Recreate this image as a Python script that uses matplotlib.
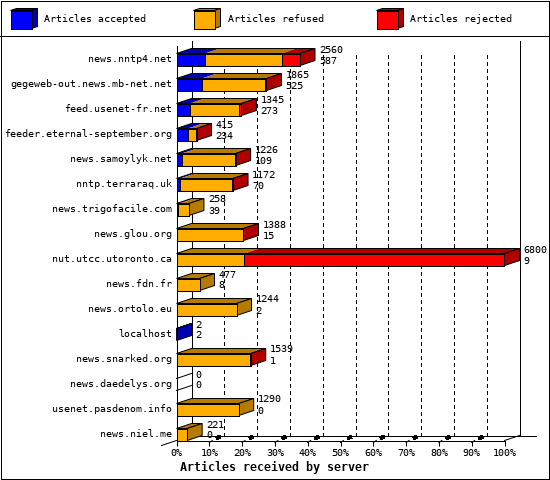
import matplotlib
matplotlib.use("Agg")
import matplotlib.pyplot as plt
from matplotlib.patches import Polygon, Rectangle
from matplotlib.lines import Line2D
from matplotlib.transforms import ScaledTranslation

servers = ["news.nntp4.net", "gegeweb-out.news.mb-net.net", "feed.usenet-fr.net",
           "feeder.eternal-september.org", "news.samoylyk.net", "nntp.terraraq.uk",
           "news.trigofacile.com", "news.glou.org", "nut.utcc.utoronto.ca", "news.fdn.fr",
           "news.ortolo.eu", "localhost", "news.snarked.org", "news.daedelys.org",
           "usenet.pasdenom.info", "news.niel.me"]
accepted = [587, 525, 273, 234, 109, 70, 39, 15, 9, 8, 2, 2, 1, 0, 0, 0]
refused = [1590, 1320, 1030, 160, 1110, 1090, 219, 1365, 1400, 469, 1242, 0, 1530, 0, 1290, 221]
rejected = [383, 20, 42, 21, 7, 12, 0, 8, 5391, 0, 0, 0, 8, 0, 0, 0]
series_names = ["Articles accepted", "Articles refused", "Articles rejected"]
tick_percent = [0, 10, 20, 30, 40, 50, 60, 70, 80, 90, 100]
axis_title = "Articles received by server"

FRONT = ["#0000FF", "#FFAE00", "#FF0000"]
DARK = ["#0000B0", "#B47B00", "#B00000"]
W, H = 550, 480
MONO = "DejaVu Sans Mono"
plt.rcParams["text.antialiased"] = True
plt.rcParams["text.hinting"] = "no_autohint"
plt.rcParams["font.family"] = MONO
PX = 0.72
FS = 7.2

fig = plt.figure(figsize=(W / 100, H / 100), dpi=100, facecolor="white")

# full-figure overlay in pixels for frame and legend
bg = fig.add_axes([0, 0, 1, 1], zorder=0)
bg.set_xlim(0, W)
bg.set_ylim(H, 0)
bg.axis("off")
bg.add_patch(Rectangle((0.5, 0.5), W - 1.5, H - 1.5, fc="white", ec="black", lw=PX, antialiased=False))
bg.add_line(Line2D([0, W], [35.5, 35.5], color="black", lw=PX, antialiased=False))
for x0, text_x, name, f, d in zip([10.5, 193.5, 376.5], [44.5, 227.5, 410], series_names, FRONT, DARK):
    w, y0, y1, dx, dy = 21, 10.5, 28.5, 6, 2
    bg.add_patch(Polygon([(x0, y0), (x0 + dx, y0 - dy), (x0 + w + dx, y0 - dy), (x0 + w, y0)], fc=d, ec="black", lw=PX))
    bg.add_patch(Polygon([(x0 + w, y0), (x0 + w + dx, y0 - dy), (x0 + w + dx, y1 - dy), (x0 + w, y1)], fc=d, ec="black", lw=PX))
    bg.add_patch(Rectangle((x0, y0), w, y1 - y0, fc=f, ec="black", lw=PX, antialiased=False))
    bg.text(text_x, 19.5, name, fontsize=FS, va="center", ha="left")
bg.text(274, 467, axis_title, fontsize=8.4, fontweight="bold", va="center", ha="center")

# Chart axes: the front plane of the 3D box
LEFT, RIGHT, TOP, BOTTOM = 176.5, 504.5, 45.5, 440.5
ax = fig.add_axes([LEFT / W, 1 - BOTTOM / H, (RIGHT - LEFT) / W, (BOTTOM - TOP) / H], zorder=1)
ax.patch.set_alpha(0)
XMAX = 6800
ax.set_xlim(0, XMAX)
ax.set_ylim(15.24, -0.56)
px_x = XMAX / (RIGHT - LEFT)
px_y = 1 / 25
DX, DY = 15 * px_x, -5 * px_y
HALF = 6 * px_y

for s in ["top", "right"]:
    ax.spines[s].set_visible(False)
for s in ["left", "bottom"]:
    ax.spines[s].set_linewidth(PX)
    ax.spines[s].set_antialiased(False)
ax.set_xticks([p / 100 * XMAX for p in tick_percent])
ax.set_xticklabels([f"{p}%" for p in tick_percent], fontsize=FS)
ax.tick_params(axis="x", length=3.6, width=PX, pad=2)
ax.set_yticks(range(len(servers)))
ax.set_yticklabels(servers, fontsize=FS)
ax.tick_params(axis="y", length=0, pad=3)
up = ScaledTranslation(0, 1.5 / 100, fig.dpi_scale_trans)
for lab in ax.get_yticklabels():
    lab.set_transform(lab.get_transform() + up)
for t in ax.get_xticklines():
    t.set_antialiased(False)

kw = dict(color="black", lw=PX, clip_on=False, antialiased=False)
kd = dict(color="black", lw=PX, clip_on=False, antialiased=True)
ybot_back = 15.24 + DY
# back walls and floor
ax.plot([DX, DX], [ybot_back, -0.76], zorder=1, **kw)
ax.plot([XMAX + DX, XMAX + DX], [ybot_back, -0.76], zorder=1, **kw)
ax.plot([DX, XMAX + DX + 16 * px_x], [ybot_back, ybot_back], zorder=1, **kw)
ax.plot([-15 * px_x, 0, DX], [15.24 - DY, 15.24, ybot_back], zorder=1, **kd)
ax.plot([XMAX, XMAX + DX], [15.24, ybot_back], zorder=1, **kd)
for p in tick_percent[1:-1]:
    gx = p / 100 * XMAX
    ax.plot([gx + DX, gx + DX], [ybot_back, -0.36], color="black", lw=PX, clip_on=False,
            antialiased=False, linestyle=(0, (4, 4)), zorder=1, dash_capstyle="butt")
    ax.plot([gx, gx + 3 * px_x], [15.24 + 2 * px_y, 15.24], zorder=1, **kd)
    ax.plot([gx + 7 * px_x, gx + 11 * px_x], [15.24 + DY * 0.45, 15.24 + DY * 0.75],
            color="black", lw=2.2, clip_on=False, antialiased=False, zorder=1, solid_capstyle="butt")

# bars, painted top to bottom
for i, name in enumerate(servers):
    vals = [accepted[i], refused[i], rejected[i]]
    total = sum(vals)
    top, bot = i - HALF, i + HALF
    z = 3 + i
    start = 0
    last = None
    for k, v in enumerate(vals):
        if v == 0:
            continue
        last = k
        ax.add_patch(Polygon([(start, top), (start + v, top), (start + v + DX, top + DY), (start + DX, top + DY)],
                             fc=DARK[k], ec="none", lw=0, clip_on=False, zorder=z))
        start += v
    if total == 0:
        ax.plot([0, DX], [top, top + DY], zorder=z, **kd)
        ax.plot([0, DX], [bot, bot + DY], zorder=z, **kd)
    else:
        ax.add_patch(Polygon([(0, top), (DX, top + DY), (total + DX, top + DY), (total, top)],
                             fc="none", ec="black", lw=PX, clip_on=False, zorder=z))
        ax.add_patch(Polygon([(total, top), (total + DX, top + DY), (total + DX, bot + DY), (total, bot)],
                             fc=DARK[last], ec="black", lw=PX, clip_on=False, zorder=z))
        start = 0
        for k, v in enumerate(vals):
            if v == 0:
                continue
            ax.add_patch(Rectangle((start, top), v, bot - top, fc=FRONT[k], ec="black", lw=PX,
                                   clip_on=False, zorder=z, antialiased=False))
            start += v
    lx = total + DX + 4 * px_x
    ax.text(lx, i - 10 * px_y, str(total), fontsize=FS, va="center", ha="left", zorder=30, clip_on=False)
    ax.text(lx, i + 1 * px_y, str(accepted[i]), fontsize=FS, va="center", ha="left", zorder=30, clip_on=False)

fig.savefig("out.png", dpi=100, facecolor="white")
